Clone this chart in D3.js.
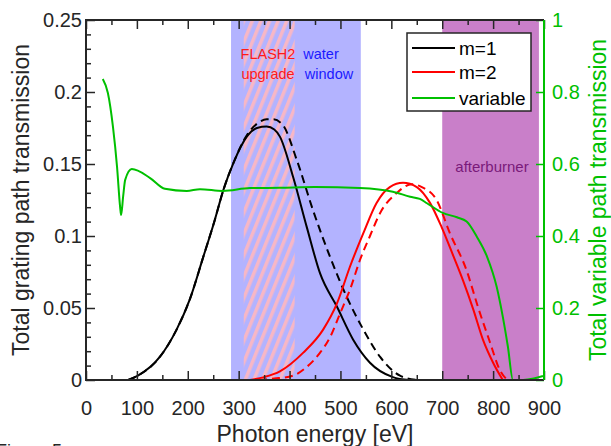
<!DOCTYPE html>
<html>
<head>
<meta charset="utf-8">
<script src="https://cdn.jsdelivr.net/npm/d3@7"></script>
<style>
  body { margin: 0; background: white; }
  text { font-family: "Liberation Sans", Arial, sans-serif; }
</style>
</head>
<body>
<div id="myVis"></div>
<script>
// --- data ---
const xTicks = [0, 100, 200, 300, 400, 500, 600, 700, 800, 900]
const yTicks = [0, 0.05, 0.1, 0.15, 0.2, 0.25]
const y2Ticks = [0, 0.2, 0.4, 0.6, 0.8, 1]

// m=1 solid
const m1E = [83, 102, 145, 178, 204, 230, 253, 270, 290, 316, 336, 355, 370, 381, 407, 434, 460, 493, 525, 558, 603, 635]
const m1T = [0, 0.003, 0.016, 0.035, 0.056, 0.085, 0.111, 0.132, 0.151, 0.169, 0.175, 0.176, 0.174, 0.169, 0.141, 0.106, 0.074, 0.051, 0.028, 0.012, 0.002, 0]
// m=1 dashed
const m1dE = [83, 102, 145, 178, 204, 230, 253, 270, 290, 316, 336, 355, 368, 387, 414, 446, 479, 512, 545, 578, 617, 650]
const m1dT = [0, 0.003, 0.016, 0.035, 0.056, 0.085, 0.111, 0.132, 0.151, 0.170, 0.178, 0.181, 0.181, 0.177, 0.153, 0.118, 0.086, 0.058, 0.035, 0.016, 0.003, 0]
// m=2 solid
const m2E = [322, 350, 381, 427, 466, 493, 519, 545, 571, 597, 623, 650, 676, 699, 722, 741, 761, 780, 800, 819]
const m2T = [0, 0.002, 0.006, 0.019, 0.035, 0.053, 0.079, 0.102, 0.123, 0.134, 0.137, 0.134, 0.123, 0.106, 0.086, 0.069, 0.049, 0.028, 0.012, 0]
// m=2 dashed
const m2dE = [340, 370, 407, 430, 460, 480, 499, 520, 538, 558, 578, 611, 640, 660, 689, 715, 748, 770, 794, 813, 828]
const m2dT = [0, 0.001, 0.003, 0.008, 0.019, 0.030, 0.046, 0.064, 0.083, 0.100, 0.116, 0.130, 0.136, 0.134, 0.125, 0.102, 0.076, 0.051, 0.026, 0.007, 0]
// variable path (right axis)
const varE = [33, 43, 53, 61, 67, 69, 73, 77, 90, 126, 155, 198, 224, 269, 322, 381, 450, 538, 603, 637, 656, 670, 701, 729, 748, 768, 788, 807, 819, 829, 839, 859, 880, 898]
const varT = [0.836, 0.797, 0.703, 0.592, 0.481, 0.458, 0.51, 0.556, 0.586, 0.561, 0.531, 0.525, 0.530, 0.525, 0.533, 0.534, 0.536, 0.533, 0.523, 0.509, 0.503, 0.491, 0.464, 0.452, 0.440, 0.398, 0.343, 0.259, 0.176, 0.093, 0, 0, 0.004, 0.011]

// shaded regions [from, to] in eV
const waterWindow = [285, 540]
const flash2 = [310, 410]
const afterburner = [700, 890]

const width = 611, height = 446
const green = "#00c000"
const axisCol = "#262626"

const svg = d3.select("#myVis")
    .append("svg")
        .attr("width", width)
        .attr("height", height)
        .style("background-color", "white")

const x = d3.scaleLinear().domain([0, 900]).range([86, 544])
const y = d3.scaleLinear().domain([0, 0.25]).range([380, 20])
const y2 = d3.scaleLinear().domain([0, 1]).range([380, 20])

// hatch pattern for FLASH2 upgrade
const defs = svg.append("defs")
defs.append("pattern")
    .attr("id", "hatch")
    .attr("patternUnits", "userSpaceOnUse")
    .attr("width", 8).attr("height", 8)
    .attr("patternTransform", "rotate(22)")
  .append("rect")
    .attr("x", 0).attr("y", 0)
    .attr("width", 3.5).attr("height", 8)
    .attr("fill", "#f7b7c6")

// bands
svg.append("rect")
    .attr("x", x(waterWindow[0])).attr("y", y(0.25))
    .attr("width", x(waterWindow[1]) - x(waterWindow[0]))
    .attr("height", y(0) - y(0.25))
    .attr("fill", "#b3b3ff")
svg.append("rect")
    .attr("x", x(flash2[0])).attr("y", y(0.25))
    .attr("width", x(flash2[1]) - x(flash2[0]))
    .attr("height", y(0) - y(0.25))
    .attr("fill", "url(#hatch)")
svg.append("rect")
    .attr("x", x(afterburner[0])).attr("y", y(0.25))
    .attr("width", x(afterburner[1]) - x(afterburner[0]))
    .attr("height", y(0) - y(0.25))
    .attr("fill", "#c97fc9")

// band labels
const bandText = (tx, ty, s, col, size) => svg.append("text")
    .attr("x", tx).attr("y", ty)
    .attr("text-anchor", "middle")
    .attr("font-size", size)
    .attr("fill", col)
    .text(s)
bandText(268, 59, "FLASH2", "#ff1a1a", 14.5)
bandText(268, 79, "upgrade", "#ff1a1a", 14.5)
bandText(321, 59, "water", "#1a1aff", 14.5)
bandText(329, 79, "window", "#1a1aff", 14.5)
bandText(492, 172, "afterburner", "#7a1a7a", 15)

// curves
const line = (xs, ys, sy) => d3.line()
    .x((d, i) => x(xs[i]))
    .y((d, i) => sy(ys[i]))
    .curve(d3.curveMonotoneX)(xs)

const drawCurve = (xs, ys, sy, col, dash) => svg.append("path")
    .attr("d", line(xs, ys, sy))
    .attr("fill", "none")
    .attr("stroke", col)
    .attr("stroke-width", 2)
    .attr("stroke-dasharray", dash ? "8,5" : null)

drawCurve(m1E, m1T, y, "black", false)
drawCurve(m1dE, m1dT, y, "black", true)
drawCurve(m2E, m2T, y, "#ff0000", false)
drawCurve(m2dE, m2dT, y, "#ff0000", true)
drawCurve(varE, varT, y2, green, false)

// axes
const gBottom = svg.append("g")
    .attr("transform", "translate(0,380)")
    .call(d3.axisBottom(x).tickValues(xTicks).tickSize(-9).tickPadding(21))
const gBottomMinor = svg.append("g")
    .attr("transform", "translate(0,380)")
    .call(d3.axisBottom(x).tickValues(d3.range(50, 900, 100)).tickSize(-5).tickFormat(""))
const gTop = svg.append("g")
    .attr("transform", "translate(0,20)")
    .call(d3.axisTop(x).tickValues(xTicks).tickSize(-9).tickFormat(""))
const gTopMinor = svg.append("g")
    .attr("transform", "translate(0,20)")
    .call(d3.axisTop(x).tickValues(d3.range(50, 900, 100)).tickSize(-5).tickFormat(""))
const gLeft = svg.append("g")
    .attr("transform", "translate(86,0)")
    .call(d3.axisLeft(y).tickValues(yTicks).tickSize(-9).tickPadding(4).tickFormat(d3.format("~g")))
const gLeftMinor = svg.append("g")
    .attr("transform", "translate(86,0)")
    .call(d3.axisLeft(y).tickValues(d3.range(0, 26).map(d => d / 100).filter(d => Math.round(d * 100) % 5 != 0)).tickSize(-5).tickFormat(""))
const gRight = svg.append("g")
    .attr("transform", "translate(544,0)")
    .call(d3.axisRight(y2).tickValues(y2Ticks).tickSize(-8).tickPadding(8).tickFormat(d3.format("~g")))

;[gBottom, gBottomMinor, gTop, gTopMinor, gLeft, gLeftMinor].forEach(g => {
    g.select(".domain").remove()
    g.selectAll("line").attr("stroke", axisCol).attr("stroke-width", 1.5)
    g.selectAll("text").attr("fill", axisCol).attr("font-size", 20).attr("font-family", "Liberation Sans, Arial")
})
gRight.select(".domain").remove()
gRight.selectAll("line").attr("stroke", green).attr("stroke-width", 1.5)
gRight.selectAll("text").attr("fill", green).attr("font-size", 20).attr("font-family", "Liberation Sans, Arial")

// box
svg.append("path")
    .attr("d", `M${x(900)},${y(0)}H${x(0)}V${y(0.25)}H${x(900)}`)
    .attr("fill", "none").attr("stroke", axisCol).attr("stroke-width", 2)
svg.append("line")
    .attr("x1", x(900)).attr("x2", x(900))
    .attr("y1", y(0)).attr("y2", y(0.25))
    .attr("stroke", green).attr("stroke-width", 2)

// axis titles
svg.append("text")
    .attr("x", x(450)).attr("y", 442)
    .attr("text-anchor", "middle").attr("font-size", 23).attr("fill", axisCol)
    .text("Photon energy [eV]")
svg.append("text")
    .attr("transform", "translate(29,200) rotate(-90)")
    .attr("text-anchor", "middle").attr("font-size", 23).attr("fill", axisCol)
    .text("Total grating path transmission")
svg.append("text")
    .attr("transform", "translate(606,200) rotate(-90)")
    .attr("text-anchor", "middle").attr("font-size", 23).attr("fill", green)
    .text("Total variable path transmission")

// legend
const legend = svg.append("g")
legend.append("rect")
    .attr("x", 407).attr("y", 33).attr("width", 124).attr("height", 78)
    .attr("fill", "white").attr("stroke", axisCol).attr("stroke-width", 1.5)
const legItems = [["m=1", "black"], ["m=2", "#ff0000"], ["variable", green]]
const legRows = [48, 72, 98]
legItems.forEach((d, i) => {
    legend.append("line")
        .attr("x1", 412).attr("x2", 455)
        .attr("y1", legRows[i]).attr("y2", legRows[i])
        .attr("stroke", d[1]).attr("stroke-width", 2)
    legend.append("text")
        .attr("x", 459).attr("y", legRows[i] + 7)
        .attr("font-size", 19).attr("fill", "black")
        .text(d[0])
})

// clipped caption at the bottom edge (as in the source crop)
svg.append("text")
    .attr("x", 62).attr("y", 457)
    .attr("text-anchor", "end").attr("font-size", 18).attr("fill", axisCol)
    .text("Figure 5")
</script>
</body>
</html>
